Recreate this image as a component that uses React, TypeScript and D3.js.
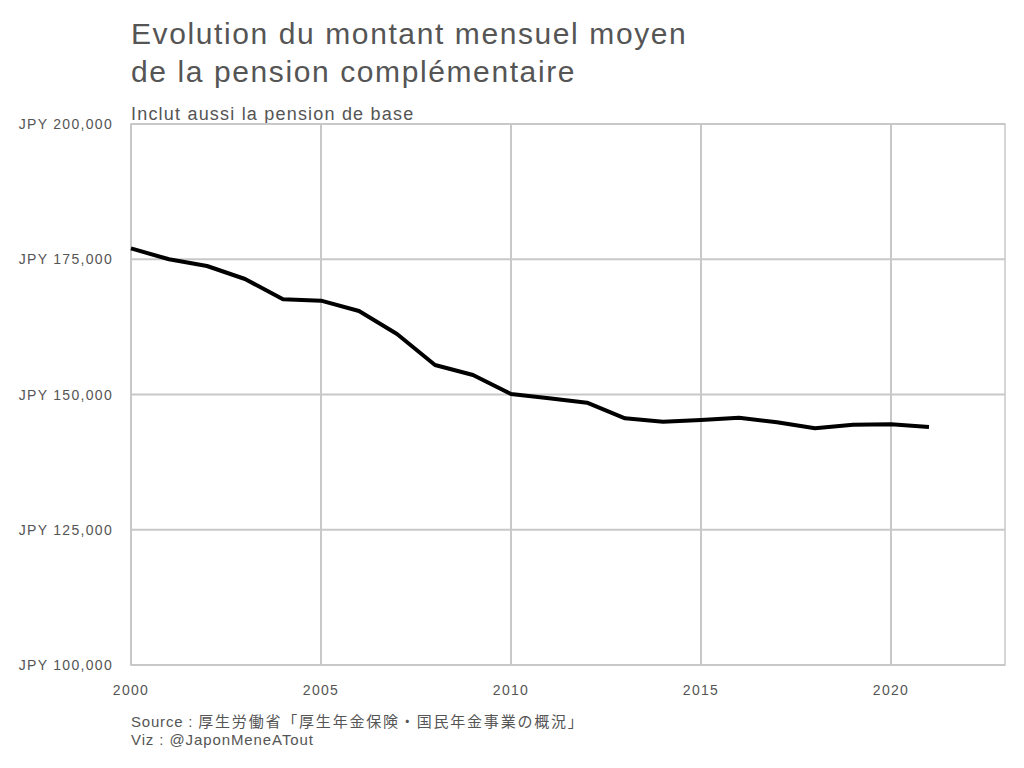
import React from "react";
import * as d3 from "d3";

const years = [2000, 2001, 2002, 2003, 2004, 2005, 2006, 2007, 2008, 2009, 2010, 2011, 2012, 2013, 2014, 2015, 2016, 2017, 2018, 2019, 2020, 2021];
const amounts = [177000, 175000, 173750, 171350, 167600, 167350, 165430, 161180, 155450, 153600, 150090, 149300, 148480, 145600, 144970, 145290, 145710, 144860, 143750, 144420, 144490, 143990];
const xTicks = [2000, 2005, 2010, 2015, 2020];
const yTicks = [100000, 125000, 150000, 175000, 200000];

const titleLines = ["Evolution du montant mensuel moyen", "de la pension complémentaire"];
const subtitle = "Inclut aussi la pension de base";
const sourceLabel = "Source : ";
const sourceText = "厚生労働省「厚生年金保険・国民年金事業の概況」";
const vizLine = "Viz : @JaponMeneATout";

const FONT = "'Liberation Sans', Arial, 'Noto Sans CJK JP', sans-serif";

export default function App() {
  const W = 1024, H = 768;
  const left = 131, right = 1005, top = 124, bottom = 665;
  const x = d3.scaleLinear().domain([2000, 2023]).range([left, right]);
  const y = d3.scaleLinear().domain([100000, 200000]).range([bottom, top]);
  const line = d3.line<number>().x((_, i) => x(years[i])).y((d) => y(d));
  const fmt = (v: number) => "JPY " + d3.format(",")(v);
  const grid = "#c8c8c8";
  const txt = "#555555";
  return (
    <svg width={W} height={H} style={{ position: "absolute", left: 0, top: 0, background: "#fff" }} fontFamily={FONT}>
      <rect x={0} y={0} width={W} height={H} fill="#fff" />
      {titleLines.map((t, i) => (
        <text key={t} x={131} y={44 + i * 38} fontSize={30} letterSpacing={1.6} fill={txt}>{t}</text>
      ))}
      <text x={131} y={120} fontSize={18} letterSpacing={1.2} fill={txt}>{subtitle}</text>
      {yTicks.map((v) => (
        <g key={v}>
          <line x1={left} x2={right} y1={y(v)} y2={y(v)} stroke={grid} strokeWidth={2} />
          <text x={113} y={y(v)} dy="0.36em" textAnchor="end" fontSize={14} letterSpacing={1.3} fill={txt}>{fmt(v)}</text>
        </g>
      ))}
      {xTicks.map((v) => (
        <g key={v}>
          <line x1={x(v)} x2={x(v)} y1={top} y2={bottom} stroke={grid} strokeWidth={2} />
          <text x={x(v)} y={695} textAnchor="middle" fontSize={14} letterSpacing={1.3} fill={txt}>{v}</text>
        </g>
      ))}
      <rect x={left} y={top} width={right - left} height={bottom - top} fill="none" stroke={grid} strokeWidth={1.5} />
      <path d={line(amounts) || ""} fill="none" stroke="#000" strokeWidth={4} strokeLinejoin="round" />
      <text x={131} y={727} fontSize={15} letterSpacing={0.8} fill={txt}>
        {sourceLabel}
        <tspan letterSpacing={1.8}>{sourceText}</tspan>
      </text>
      <text x={131} y={745} fontSize={15} letterSpacing={0.9} fill={txt}>{vizLine}</text>
    </svg>
  );
}
